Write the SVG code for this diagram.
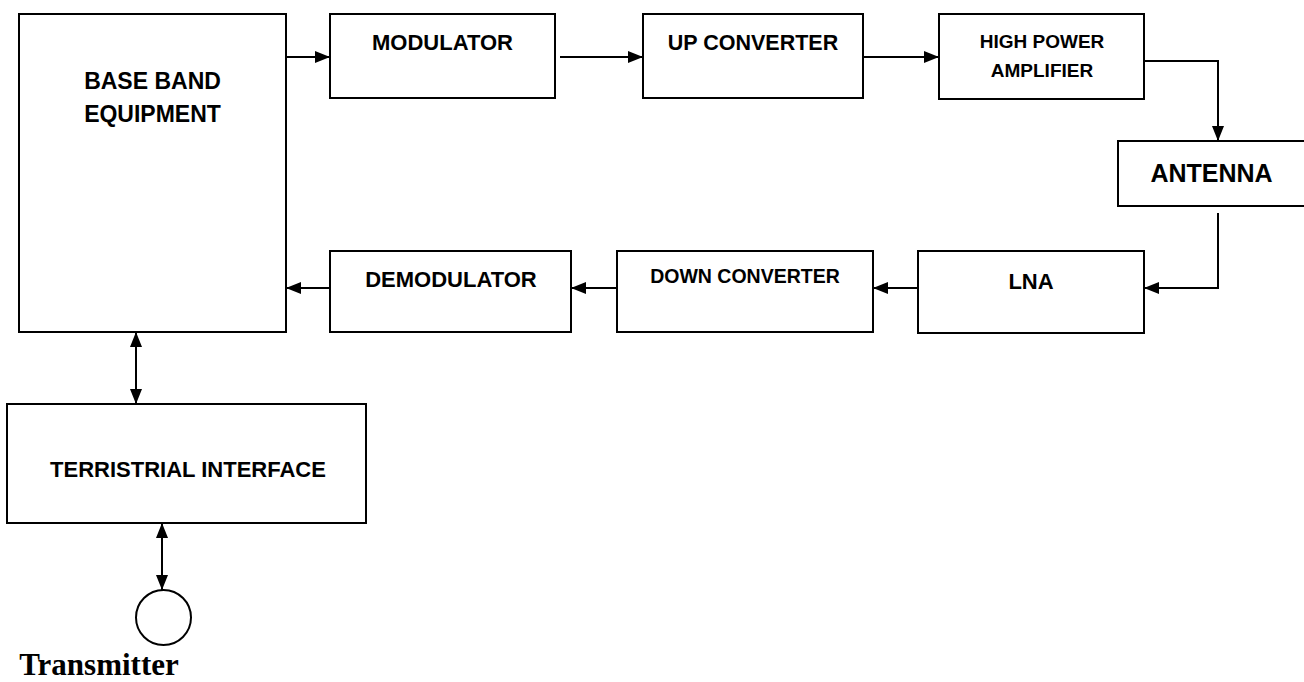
<svg xmlns="http://www.w3.org/2000/svg" width="1304" height="682" viewBox="0 0 1304 682">
<style>
.box{fill:#fff;stroke:#000;stroke-width:2}
.ln{fill:none;stroke:#000;stroke-width:2}
text{font-family:"Liberation Sans",Arial,sans-serif;font-weight:bold;fill:#000;text-anchor:middle}
text.serif{font-family:"Liberation Serif","Times New Roman",serif}
</style>
<defs>
<marker id="ah" viewBox="0 0 15 12" refX="15" refY="6" markerWidth="15" markerHeight="12" markerUnits="userSpaceOnUse" orient="auto-start-reverse">
<path d="M0,0 L15,6 L0,12 Z" fill="#000"/>
</marker>
</defs>
<rect width="1304" height="682" fill="#fff"/>
<g id="baseband"><rect class="box" x="19" y="14" width="267" height="318"/>
<text x="152.5" y="89" font-size="23">BASE BAND</text>
<text x="152.5" y="122" font-size="23">EQUIPMENT</text></g>
<g id="modulator"><rect class="box" x="330" y="14" width="225" height="84"/>
<text x="442.5" y="50" font-size="22">MODULATOR</text></g>
<g id="upconverter"><rect class="box" x="643" y="14" width="220" height="84"/>
<text x="753" y="50" font-size="21.5">UP CONVERTER</text></g>
<g id="hpa"><rect class="box" x="939" y="14" width="205" height="85"/>
<text x="1042" y="48" font-size="19">HIGH POWER</text>
<text x="1042" y="77" font-size="19">AMPLIFIER</text></g>
<g id="antenna"><rect class="box" x="1118" y="141" width="192" height="65"/>
<text x="1211.5" y="182" font-size="25">ANTENNA</text></g>
<g id="lna"><rect class="box" x="918" y="251" width="226" height="82"/>
<text x="1031" y="289" font-size="22">LNA</text></g>
<g id="downconverter"><rect class="box" x="617" y="251" width="256" height="81"/>
<text x="745" y="283" font-size="19.5">DOWN CONVERTER</text></g>
<g id="demodulator"><rect class="box" x="330" y="251" width="241" height="81"/>
<text x="451" y="287" font-size="22">DEMODULATOR</text></g>
<g id="terrestrial"><rect class="box" x="7" y="404" width="359" height="119"/>
<text x="188" y="477" font-size="22">TERRISTRIAL INTERFACE</text></g>
<g id="transmitter"><circle class="ln" cx="163.5" cy="617.5" r="27.5"/>
<text class="serif" x="99" y="675" font-size="31">Transmitter</text></g>
<g id="connectors">
<path class="ln" d="M286,57 H330" marker-end="url(#ah)"/>
<path class="ln" d="M560,57 H643" marker-end="url(#ah)"/>
<path class="ln" d="M863,57 H939" marker-end="url(#ah)"/>
<path class="ln" d="M1144,61 H1218 V141" marker-end="url(#ah)"/>
<path class="ln" d="M1218,213 V288 H1144" marker-end="url(#ah)"/>
<path class="ln" d="M918,288 H873" marker-end="url(#ah)"/>
<path class="ln" d="M617,288 H571" marker-end="url(#ah)"/>
<path class="ln" d="M330,288 H286" marker-end="url(#ah)"/>
<path class="ln" d="M136,332 V404" marker-start="url(#ah)" marker-end="url(#ah)"/>
<path class="ln" d="M162,523 V590" marker-start="url(#ah)" marker-end="url(#ah)"/>
</g>
</svg>
